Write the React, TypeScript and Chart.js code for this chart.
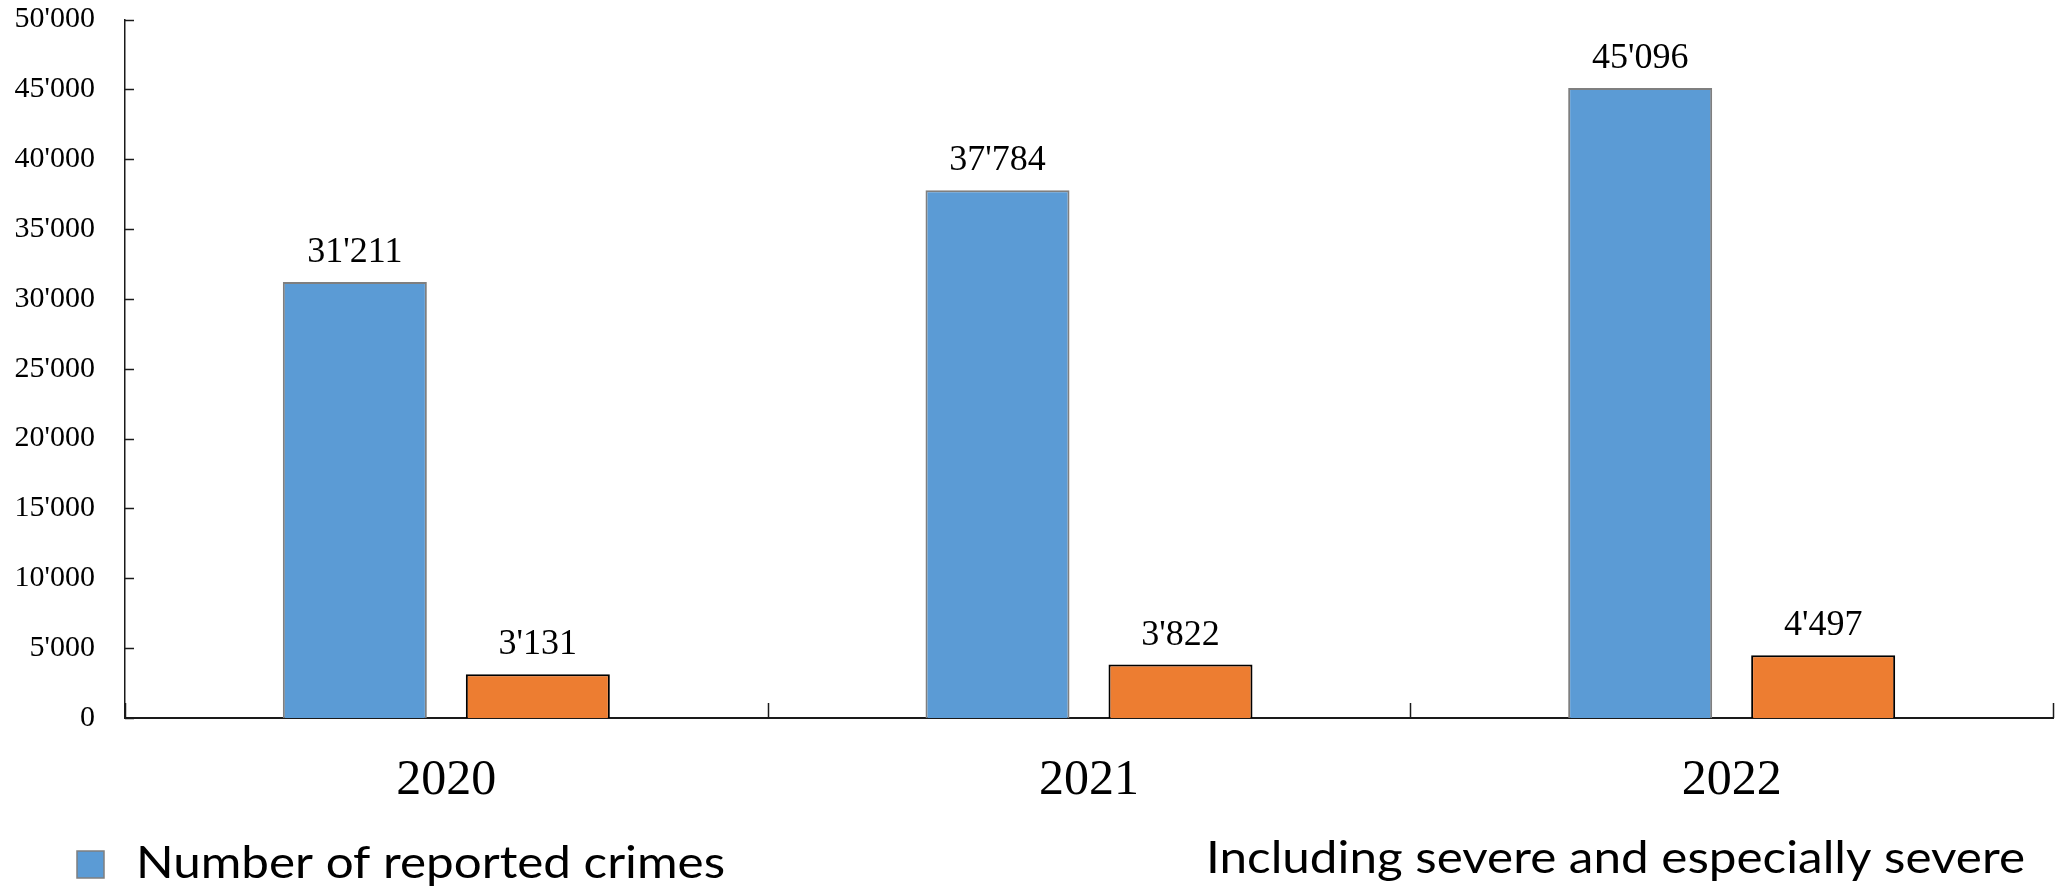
import React, { useEffect, useRef } from 'react';
import { Chart, registerables } from 'chart.js';

Chart.register(...registerables);

const categories = ['2020', '2021', '2022'];
const reportedCrimes = [31211, 37784, 45096];
const severeCrimes = [3131, 3822, 4497];
const seriesLabels = ['Number of reported crimes', 'Including severe and especially severe'];
const yMin = 0;
const yMax = 50000;
const yStep = 5000;

const fmt = (v: number) => String(Math.round(v)).replace(/\B(?=(\d{3})+(?!\d))/g, "'");

const W = 2067;
const H = 886;

const overlayPlugin = {
  id: 'overlay',
  afterDraw(chart: any) {
    const ctx = chart.ctx;
    const area = chart.chartArea;
    const xs = chart.scales.x;
    const ys = chart.scales.y;
    ctx.save();
    // inner y ticks
    ctx.strokeStyle = '#1a1a1a';
    ctx.lineWidth = 1.5;
    ys.ticks.forEach((t: any) => {
      const y = Math.round(ys.getPixelForValue(t.value)) + 0.5;
      ctx.beginPath();
      ctx.moveTo(area.left, y);
      ctx.lineTo(area.left + 9, y);
      ctx.stroke();
    });
    // category boundary ticks
    for (let i = 0; i <= categories.length; i++) {
      const x = Math.round(xs.getPixelForValue(i - 0.5)) + 0.5;
      ctx.beginPath();
      ctx.moveTo(x, area.bottom);
      ctx.lineTo(x, area.bottom - 15);
      ctx.stroke();
    }
    // data labels
    ctx.fillStyle = '#000';
    ctx.font = '36px "Liberation Serif", "Times New Roman", serif';
    ctx.textAlign = 'center';
    ctx.textBaseline = 'alphabetic';
    chart.data.datasets.forEach((ds: any, di: number) => {
      const meta = chart.getDatasetMeta(di);
      meta.data.forEach((bar: any, i: number) => {
        ctx.fillText(fmt(ds.data[i]), bar.x, bar.y - 20);
      });
    });
    // legend
    const ds0 = chart.data.datasets[0];
    ctx.fillStyle = ds0.backgroundColor;
    ctx.fillRect(77, 851, 27, 27);
    ctx.strokeStyle = '#7F7F7F';
    ctx.lineWidth = 1.5;
    ctx.strokeRect(77, 851, 27, 27);
    ctx.fillStyle = '#000';
    ctx.font = '44px Lato, "Noto Sans", sans-serif';
    ctx.textAlign = 'left';
    const drawFit = (text: string, x0: number, x1: number, base: number) => {
      const m = ctx.measureText(text).width;
      ctx.save();
      ctx.translate(x0, base);
      ctx.scale((x1 - x0) / m, 1);
      ctx.fillText(text, 0, 0);
      ctx.restore();
    };
    drawFit(seriesLabels[0], 136, 725, 878);
    drawFit(seriesLabels[1], 1206, 2025, 873);
    ctx.restore();
  },
};

export default function App() {
  const ref = useRef<HTMLCanvasElement | null>(null);
  useEffect(() => {
    if (!ref.current) return;
    const chart = new Chart(ref.current, {
      type: 'bar',
      data: {
        labels: categories,
        datasets: [
          {
            label: seriesLabels[0],
            data: reportedCrimes,
            backgroundColor: '#5B9BD5',
            borderColor: '#7F7F7F',
            borderWidth: 2,
            borderSkipped: 'bottom',
            categoryPercentage: 0.5695,
            barPercentage: 0.787,
          },
          {
            label: seriesLabels[1],
            data: severeCrimes,
            backgroundColor: '#ED7D31',
            borderColor: '#000000',
            borderWidth: 2,
            borderSkipped: 'bottom',
            categoryPercentage: 0.5695,
            barPercentage: 0.787,
          },
        ],
      },
      options: {
        responsive: false,
        animation: false,
        devicePixelRatio: 1,
        layout: { padding: { top: 19.5, right: 14, left: 0, bottom: 0 } },
        plugins: {
          legend: { display: false },
          tooltip: { enabled: false },
          title: { display: false },
        },
        scales: {
          x: {
            type: 'category',
            offset: true,
            grid: { display: false, drawTicks: false },
            border: { display: true, color: '#1a1a1a', width: 2 },
            ticks: {
              color: '#000',
              padding: 33,
              font: { family: '"Liberation Serif", "Times New Roman", serif', size: 50, lineHeight: 1.2 },
            },
            afterFit: (s: any) => {
              s.height = 168;
              s.paddingLeft = 0;
              s.paddingRight = 0;
              s.paddingTop = 0;
              s.paddingBottom = 0;
            },
          },
          y: {
            min: yMin,
            max: yMax,
            grid: { display: false, drawTicks: false },
            border: { display: true, color: '#1a1a1a', width: 1.5 },
            ticks: {
              stepSize: yStep,
              color: '#000',
              padding: 30,
              font: { family: '"Liberation Serif", "Times New Roman", serif', size: 30 },
              callback: (v: any) => fmt(Number(v)),
            },
            afterFit: (s: any) => {
              s.width = 125;
              s.paddingLeft = 0;
              s.paddingRight = 0;
              s.paddingTop = 0;
              s.paddingBottom = 0;
            },
          },
        },
      },
      plugins: [overlayPlugin],
    });
    return () => chart.destroy();
  }, []);
  return (
    <div style={{ position: 'fixed', left: 0, top: 0, width: W, height: H, background: '#fff' }}>
      <canvas ref={ref} width={W} height={H} style={{ display: 'block', width: W, height: H }} />
    </div>
  );
}
